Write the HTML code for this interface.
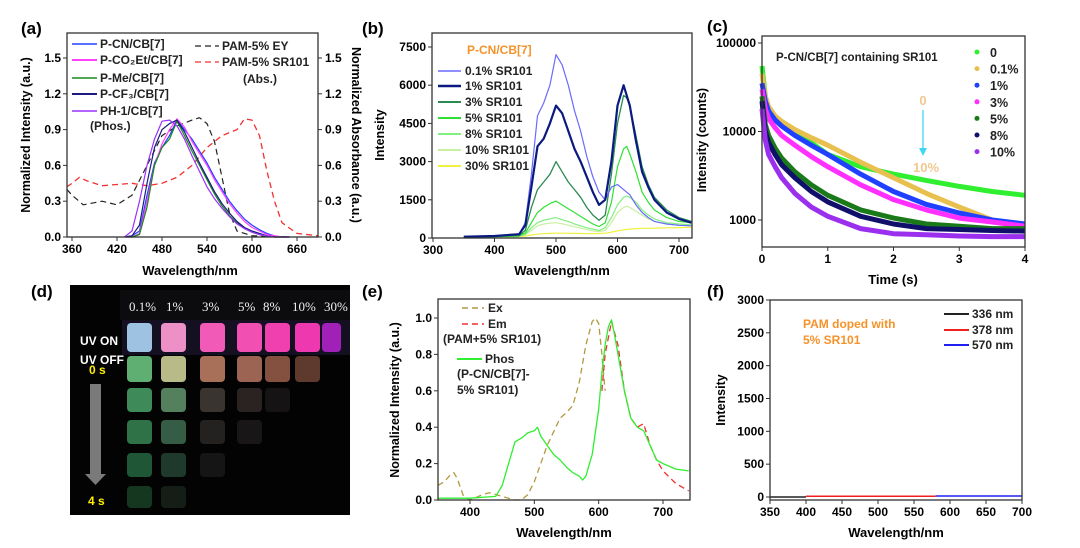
<!DOCTYPE html>
<html><head><meta charset="utf-8"><style>
html,body{margin:0;padding:0;background:#fff;}
svg{display:block;font-family:"Liberation Sans",Arial,sans-serif;}
</style></head><body>
<svg id="fig" width="1080" height="548" viewBox="0 0 1080 548" xmlns="http://www.w3.org/2000/svg">
<g>
<rect x="70" y="285" width="280" height="230" fill="#030303"/>
<rect x="120" y="290" width="230" height="30" fill="#0c0c0e"/>
<rect x="122" y="320" width="228" height="35" fill="#141022"/>
<g font-family="Liberation Serif,serif" font-size="13" fill="#eee">
<text x="129" y="311">0.1%</text><text x="166" y="311">1%</text><text x="202" y="311">3%</text><text x="238" y="311">5%</text><text x="263" y="311">8%</text><text x="292" y="311">10%</text><text x="324" y="311">30%</text></g>
<g>
<rect x="127" y="323" width="25" height="29" rx="4" fill="#9ec2e2"/><rect x="161" y="323" width="25" height="29" rx="4" fill="#ee90c8"/><rect x="200" y="323" width="25" height="29" rx="4" fill="#f25ab8"/><rect x="237" y="323" width="25" height="29" rx="4" fill="#f24fb2"/><rect x="265" y="323" width="25" height="29" rx="4" fill="#f040b0"/><rect x="295" y="323" width="25" height="29" rx="4" fill="#ee38b0"/><rect x="322" y="323" width="19" height="29" rx="4" fill="#a020b8"/></g>
<g>
<rect x="127" y="356" width="25" height="26" rx="4" fill="#5fae72"/><rect x="161" y="356" width="25" height="26" rx="4" fill="#b8bb88"/><rect x="200" y="356" width="25" height="26" rx="4" fill="#a87058"/><rect x="237" y="356" width="25" height="26" rx="4" fill="#9c6452"/><rect x="265" y="356" width="25" height="26" rx="4" fill="#84503f"/><rect x="295" y="356" width="25" height="26" rx="4" fill="#5e3a2e"/>
<rect x="127" y="388" width="25" height="24" rx="4" fill="#3e8a58"/><rect x="161" y="388" width="25" height="24" rx="4" fill="#55805e"/><rect x="200" y="388" width="25" height="24" rx="4" fill="#3a3430"/><rect x="237" y="388" width="25" height="24" rx="4" fill="#2a2322"/><rect x="265" y="388" width="25" height="24" rx="4" fill="#151313"/>
<rect x="127" y="420" width="25" height="24" rx="4" fill="#2f7248"/><rect x="161" y="420" width="25" height="24" rx="4" fill="#355c44"/><rect x="200" y="420" width="25" height="24" rx="4" fill="#232221"/><rect x="237" y="420" width="25" height="24" rx="4" fill="#181616"/>
<rect x="127" y="453" width="25" height="24" rx="4" fill="#1f5636"/><rect x="161" y="453" width="25" height="24" rx="4" fill="#1f3a2c"/><rect x="200" y="453" width="25" height="24" rx="4" fill="#141514"/>
<rect x="127" y="486" width="25" height="22" rx="4" fill="#15361f"/><rect x="161" y="486" width="25" height="22" rx="4" fill="#141d16"/></g>
<text x="80" y="345" font-size="12" font-weight="bold" fill="#fff">UV ON</text>
<text x="80" y="364" font-size="12" font-weight="bold" fill="#fff">UV OFF</text>
<text x="89" y="374" font-size="12" font-weight="bold" fill="#ffee00">0 s</text>
<path d="M90,384 H101 V474 H106 L95.5,485 L85,474 H90 Z" fill="#7a7a7a"/>
<text x="88" y="505" font-size="12" font-weight="bold" fill="#ffee00">4 s</text>
</g>
<g font-size="17" font-weight="bold" fill="#000">
<text x="21" y="34">(a)</text>
<text x="362" y="34">(b)</text>
<text x="707" y="32">(c)</text>
<text x="31" y="297">(d)</text>
<text x="362" y="297">(e)</text>
<text x="707" y="297">(f)</text>
</g>
</svg>
<script>
const aPhosX = [430,440,450,460,470,480,490,500,510,520,530,540,550,560,570,580,590,600,610,620,630,640,650];
const aPCN = [0,0.01,0.05,0.35,0.62,0.75,0.85,0.98,0.9,0.82,0.72,0.62,0.5,0.4,0.3,0.22,0.15,0.1,0.06,0.03,0.01,0,0];
const aPCO2Et = [0,0,0.03,0.3,0.6,0.78,0.9,0.99,0.92,0.8,0.7,0.6,0.48,0.38,0.28,0.2,0.13,0.08,0.05,0.02,0.01,0,0];
const aPMe = [0,0,0.02,0.25,0.6,0.75,0.82,0.97,0.85,0.72,0.6,0.48,0.36,0.26,0.18,0.12,0.07,0.04,0.02,0.01,0,0,0];
const aPCF3 = [0,0.01,0.1,0.45,0.75,0.9,0.95,0.98,0.88,0.75,0.62,0.5,0.38,0.28,0.2,0.13,0.08,0.05,0.03,0.01,0,0,0];
const aPH1 = [0,0.05,0.3,0.6,0.82,0.97,0.98,0.93,0.82,0.68,0.55,0.42,0.32,0.24,0.17,0.11,0.07,0.04,0.02,0.01,0,0,0];
const aEYX = [353,360,375,400,420,440,460,480,500,520,530,540,550,560,570,580,600,650];
const aEY = [0.4,0.35,0.27,0.3,0.27,0.35,0.6,0.85,0.93,0.98,1.0,0.95,0.8,0.5,0.2,0.05,0.01,0];
const aSRX = [353,360,370,380,400,420,440,460,480,500,520,540,560,580,590,600,610,620,630,640,660,688];
const aSR = [0.42,0.45,0.5,0.47,0.43,0.44,0.45,0.43,0.45,0.5,0.6,0.75,0.85,0.9,0.99,0.98,0.85,0.55,0.3,0.12,0.03,0.01];
const aXTicks = [360,420,480,540,600,660];
const aYTicks = ["0.0","0.3","0.6","0.9","1.2","1.5"];
const bX = [350,400,440,450,460,470,480,490,500,510,520,530,540,550,560,570,580,590,600,610,615,620,630,640,650,660,680,700,720];
const b01 = [50,80,150,600,2500,4800,5300,6000,7200,6800,6000,5000,4200,3200,2400,1800,1500,2000,2100,1900,1800,1700,1300,1000,800,650,550,500,480];
const b1 = [50,80,150,500,2000,3600,3900,4500,5200,4900,4200,3500,3000,2400,1800,1300,1500,3000,5200,6000,5600,5200,3800,2600,2000,1500,1000,750,600];
const b3 = [30,60,100,300,1200,1900,2200,2500,3000,2600,2200,1900,1600,1200,900,700,900,2500,4500,5600,5500,5200,4000,2800,2100,1600,1100,800,650];
const b5 = [30,50,80,200,600,1000,1200,1350,1450,1300,1150,1000,850,700,550,450,600,1400,2800,3500,3600,3300,2600,1800,1400,1100,800,650,600];
const b8 = [30,50,80,150,400,600,700,750,800,720,650,550,480,400,350,300,400,800,1300,1600,1650,1600,1400,1100,900,750,600,550,520];
const b10 = [30,40,60,120,300,480,550,580,600,560,500,440,390,330,280,250,300,600,1000,1200,1250,1200,1050,900,750,650,550,500,480];
const b30 = [20,30,50,80,120,150,170,180,190,190,185,180,175,170,170,175,190,230,280,320,340,350,370,380,380,390,400,410,420];
const bXTicks = [300,400,500,600,700];
const bYTicks = [0,1500,3000,4500,6000,7500];
const cT = [0,0.05,0.1,0.2,0.3,0.5,0.75,1,1.5,2,2.5,3,3.5,4];
const c0 = [55000,25000,18000,14000,12000,9500,7500,5500,4000,3300,2800,2400,2100,1900];
const c01 = [45000,25000,19000,15000,13000,10500,8500,7000,4500,3000,2000,1400,1000,800];
const c1 = [35000,22000,17000,13500,11500,9000,7000,5500,3300,2100,1500,1200,1000,900];
const c3 = [30000,18000,14000,11000,9000,7000,5200,4000,2500,1700,1300,1050,950,850];
const c5 = [25000,12000,9000,6500,5000,3500,2500,1900,1300,1050,900,850,800,800];
const c8 = [22000,10000,7500,5500,4200,3000,2100,1600,1100,900,800,780,760,750];
const c10 = [18000,8000,5500,4000,3000,2000,1400,1100,800,700,680,660,650,650];
const cXTicks = [0,1,2,3,4];
const cYTicks = [1000,10000,100000];
const eExX = [350,360,370,375,380,390,400,420,430,440,450,460,470,480,490,500,520,540,550,560,570,580,590,595,600,605,610];
const eEx = [0.08,0.1,0.14,0.15,0.12,0.02,0,0.03,0.04,0.03,0.02,0.01,0,0,0.03,0.1,0.3,0.45,0.48,0.52,0.65,0.85,0.98,1.0,0.97,0.8,0.6];
const eEmX = [605,610,620,630,640,650,660,670,680,690,700,720,740];
const eEm = [0.6,0.8,0.98,0.85,0.6,0.45,0.4,0.42,0.3,0.22,0.16,0.09,0.05];
const ePhX = [350,400,440,450,460,470,480,490,500,505,510,520,530,540,550,560,570,575,580,590,600,605,610,615,620,625,630,640,650,660,670,680,690,700,720,740];
const ePh = [0.01,0.01,0.02,0.08,0.2,0.32,0.34,0.37,0.38,0.4,0.35,0.3,0.25,0.22,0.18,0.15,0.13,0.11,0.13,0.25,0.5,0.7,0.85,0.95,0.99,0.9,0.8,0.6,0.45,0.4,0.38,0.3,0.22,0.2,0.17,0.16];
const eXTicks = [400,500,600,700];
const eYTicks = ["0.0","0.2","0.4","0.6","0.8","1.0"];
const f336X = [350,400];
const f336 = [0,0];
const f378X = [400,580];
const f378 = [10,10];
const f570X = [580,700];
const f570 = [15,15];
const fXTicks = [350,400,450,500,550,600,650,700];
const fYTicks = [0,500,1000,1500,2000,2500,3000];

const NS = "http://www.w3.org/2000/svg";
const svg = document.getElementById('fig');
function mk(tag, attrs, parent){ const e=document.createElementNS(NS,tag); for(const k in attrs) e.setAttribute(k,attrs[k]); (parent||svg).appendChild(e); return e; }
function txt(s, attrs, parent){ const e=mk('text',attrs,parent); e.textContent=s; return e; }
function lin(d0,d1,r0,r1){ return v=> r0+(v-d0)*(r1-r0)/(d1-d0); }
function pathD(xs, ys, sx, sy){ return xs.map((x,i)=>(i?'L':'M')+sx(x).toFixed(1)+','+sy(ys[i]).toFixed(1)).join(''); }
function series(g, name, xs, ys, sx, sy, color, w, dash){
  const p=mk('path',{d:pathD(xs,ys,sx,sy),fill:'none',stroke:color,'stroke-width':w,'stroke-linejoin':'round'},g);
  if(dash) p.setAttribute('stroke-dasharray',dash);
  
  
  return p;
}
function frame(g, x0,y0,x1,y1){
  const r=mk('rect',{x:x0,y:y0,width:x1-x0,height:y1-y0,fill:'none',stroke:'#333','stroke-width':1.3},g);
  
  
}
function xAxis(g, ticks, sx, yb, labels){
  const ax=mk('g',{'font-size':12,'font-weight':'bold','text-anchor':'middle'},g);
  
  
  ticks.forEach((t,i)=>{ const x=sx(t); mk('line',{x1:x,x2:x,y1:yb,y2:yb+4,stroke:'#333'},ax);
    const l=txt(labels?labels[i]:String(t),{x:x,y:yb+16},ax);
    
     });
}
function yAxis(g, vals, labels, sy, xl, right){
  const ax=mk('g',{'font-size':12,'font-weight':'bold','text-anchor':right?'start':'end'},g);
  
  
  vals.forEach((v,i)=>{ const y=sy(v); mk('line',{x1:xl,x2:right?xl+4:xl-4,y1:y,y2:y,stroke:'#333'},ax);
    const l=txt(labels[i],{x:right?xl+7:xl-6,y:y+4},ax);
    
     });
}
function rtitle(g,s,x,y,name,rot){
  const t=txt(s,{x:x,y:y,'font-size':12.5,'font-weight':'bold','text-anchor':'middle',transform:'rotate('+(rot||-90)+' '+x+' '+y+')'},g);
  
  
}
function htitle(g,s,x,y,name){
  const t=txt(s,{x:x,y:y,'font-size':13,'font-weight':'bold','text-anchor':'middle'},g);
  
  
}
function legLine(g,name,x,y,w,color,sw,dash,label,lx,fs,fill){
  const l=mk('line',{x1:x,x2:x+w,y1:y,y2:y,stroke:color,'stroke-width':sw},g);
  if(dash) l.setAttribute('stroke-dasharray',dash);
  
  
  const t=txt(label,{x:lx,y:y+4,'font-size':fs||12,'font-weight':'bold',fill:fill||'#222'},g);
  
  
}

{
const g=mk('g',{});  
const sx=lin(360,660,72,297), sy=lin(0,1.5,237,58);
const yv=aYTicks.map(Number);
series(g,'sr101-abs-line',aSRX,aSR,sx,sy,'#f03030',1.3,'6,4');
series(g,'ey-abs-line',aEYX,aEY,sx,sy,'#222',1.2,'6,4');
series(g,'p-cn-line',aPhosX,aPCN,sx,sy,'#2040ff',1.2);
series(g,'p-co2et-line',aPhosX,aPCO2Et,sx,sy,'#ff40ff',1.2);
series(g,'p-me-line',aPhosX,aPMe,sx,sy,'#1a8a1a',1.2);
series(g,'p-cf3-line',aPhosX,aPCF3,sx,sy,'#1a1a80',1.2);
series(g,'ph-1-line',aPhosX,aPH1,sx,sy,'#9a30ff',1.2);
frame(g,67,33,318,237);
xAxis(g,aXTicks,sx,237);
yAxis(g,yv,aYTicks,sy,67,false);
yAxis(g,yv,aYTicks,sy,318,true);
rtitle(g,'Normalized Intensity (a.u.)',30,135,'y-axis-title-left');
rtitle(g,'Normalized Absorbance (a.u.)',352,135,'y-axis-title-right',90);
htitle(g,'Wavelength/nm',190,275,'x-axis-title');
legLine(g,'legend-p-cn',72,44,25,'#2040ff',1.5,null,'P-CN/CB[7]',100);
legLine(g,'legend-p-co2et',72,60,25,'#ff40ff',2,null,'P-CO\u2082Et/CB[7]',100);
legLine(g,'legend-p-me',72,78,25,'#1a8a1a',1.5,null,'P-Me/CB[7]',100);
legLine(g,'legend-p-cf3',72,94,25,'#1a1a80',2,null,'P-CF\u2083/CB[7]',100);
legLine(g,'legend-ph-1',72,111,25,'#9a30ff',1.5,null,'PH-1/CB[7]',100);
const t1=txt('(Phos.)',{x:90,y:130,'font-size':12,'font-weight':'bold',fill:'#222'},g);  
legLine(g,'legend-pam-ey',195,46,24,'#222',1.3,'6,4','PAM-5% EY',222);
legLine(g,'legend-pam-sr101',195,62,24,'#f03030',1.3,'6,4','PAM-5% SR101',222);
const t2=txt('(Abs.)',{x:243,y:83,'font-size':12,'font-weight':'bold',fill:'#222'},g);  
}
{
const g=mk('g',{});  
const sx=lin(300,700,433,679), sy=lin(0,7500,238,47);
const cl=x=>Math.min(x,692);
const sxc=v=>cl(sx(v));
series(g,'sr101-30-line',bX,b30,sxc,sy,'#f0f040',1.2);
series(g,'sr101-10-line',bX,b10,sxc,sy,'#c8f0a0',1.2);
series(g,'sr101-8-line',bX,b8,sxc,sy,'#80f080',1.2);
series(g,'sr101-5-line',bX,b5,sxc,sy,'#30e030',1.2);
series(g,'sr101-3-line',bX,b3,sxc,sy,'#2a8a50',1.3);
series(g,'sr101-0.1-line',bX,b01,sxc,sy,'#6a6aff',1.2);
series(g,'sr101-1-line',bX,b1,sxc,sy,'#0a1a80',2.2);
frame(g,432,33,692,238);
xAxis(g,bXTicks,sx,238);
yAxis(g,bYTicks,bYTicks.map(String),sy,432,false);
rtitle(g,'Intensity',384,135,'y-axis-title');
htitle(g,'Wavelength/nm',562,275,'x-axis-title');
const t=txt('P-CN/CB[7]',{x:467,y:54,'font-size':12,'font-weight':'bold',fill:'#f5922a'},g);  
legLine(g,'legend-0.1',438,71,23,'#6a6aff',1.5,null,'0.1% SR101',465);
legLine(g,'legend-1',438,86,23,'#0a1a80',2.5,null,'1% SR101',465);
legLine(g,'legend-3',438,102,23,'#2a8a50',2,null,'3% SR101',465);
legLine(g,'legend-5',438,118,23,'#30e030',2,null,'5% SR101',465);
legLine(g,'legend-8',438,134,23,'#80f080',2,null,'8% SR101',465);
legLine(g,'legend-10',438,150,23,'#c8f0a0',2,null,'10% SR101',465);
legLine(g,'legend-30',438,166,23,'#f0f040',2,null,'30% SR101',465);
}
{
const g=mk('g',{});  
const sx=lin(0,4,762,1025);
const sy=v=>220-(Math.log10(v)-3)*88.5;
const cols=['#30ee30','#e8c050','#2040ff','#ff30ff','#1a7a1a','#10106a','#9a30ee'];
const sets=[c0,c01,c1,c3,c5,c8,c10];
const names=['decay-0','decay-0.1','decay-1','decay-3','decay-5','decay-8','decay-10'];
sets.forEach((s,i)=>{ const clipped=s.map(v=>Math.max(v,520)); series(g,names[i],cT,clipped,sx,sy,cols[i],5,null); });
frame(g,762,36,1025,247);
xAxis(g,cXTicks,sx,247);
yAxis(g,cYTicks,cYTicks.map(String),sy,762,false);
htitle(g,'Time (s)',893,284,'x-axis-title');
rtitle(g,'Intensity (counts)',706,140,'y-axis-title');
const t=txt('P-CN/CB[7] containing SR101',{x:776,y:61,'font-size':11.5,'font-weight':'bold',fill:'#222'},g);  
const labs=['0','0.1%','1%','3%','5%','8%','10%'];
labs.forEach((l,i)=>{ const y=52+i*16.6;
 const c=mk('circle',{cx:977,cy:y,r:2.5,fill:cols[i]},g);  
 const tt=txt(l,{x:990,y:y+5,'font-size':12.5,'font-weight':'bold',fill:'#222'},g);   });
const a0=txt('0',{x:923,y:105,'font-size':13,'font-weight':'bold',fill:'#f0c890','text-anchor':'middle'},g);  
const ar=mk('line',{x1:923,x2:923,y1:110,y2:150,stroke:'#40d8f0','stroke-width':1.3},g);  
const ah=mk('path',{d:'M919,148 L923,156 L927,148 Z',fill:'#40d8f0'},g);  
const a1=txt('10%',{x:926,y:172,'font-size':13,'font-weight':'bold',fill:'#f0c890','text-anchor':'middle'},g);  
}
{
const g=mk('g',{});  
const sx=lin(400,700,470,663), sy=lin(0,1,500,318);
series(g,'ex-line',eExX,eEx,sx,sy,'#b09a40',1.3,'6,4');
series(g,'em-line',eEmX,eEm,sx,sy,'#f03030',1.3,'6,4');
series(g,'phos-line',ePhX,ePh,sx,sy,'#30ee30',1.3);
frame(g,438,299,690,500);
xAxis(g,eXTicks,sx,500);
yAxis(g,eYTicks.map(Number),eYTicks,sy,438,false);
rtitle(g,'Normalized Intensity (a.u.)',399,400,'y-axis-title');
htitle(g,'Wavelength/nm',564,537,'x-axis-title');
legLine(g,'legend-ex',462,308,22,'#b09a40',1.5,'6,4','Ex',488);
legLine(g,'legend-em',462,324,22,'#f03030',1.5,'6,4','Em',488);
const n1=txt('(PAM+5% SR101)',{x:443,y:343,'font-size':12,'font-weight':'bold',fill:'#222'},g);  
legLine(g,'legend-phos',457,359,25,'#30ee30',2,null,'Phos',485);
const n2=txt('(P-CN/CB[7]-',{x:457,y:378,'font-size':12,'font-weight':'bold',fill:'#222'},g);  
const n3=txt('5% SR101)',{x:457,y:394,'font-size':12,'font-weight':'bold',fill:'#222'},g);  
}
{
const g=mk('g',{});  
const sx=lin(350,700,770,1022), sy=lin(0,3000,497,300);
series(g,'line-336nm',f336X,f336,sx,sy,'#222',1.5);
series(g,'line-378nm',f378X,f378,sx,sy,'#f02020',1.5);
series(g,'line-570nm',f570X,f570,sx,sy,'#2020f0',1.5);
frame(g,770,300,1022,500);
xAxis(g,fXTicks,sx,500);
yAxis(g,fYTicks,fYTicks.map(String),sy,770,false);
rtitle(g,'Intensity',725,400,'y-axis-title');
htitle(g,'Wavelength/nm',896,537,'x-axis-title');
const t1=txt('PAM doped with',{x:803,y:328,'font-size':12,'font-weight':'bold',fill:'#f5922a'},g);  
const t2=txt('5% SR101',{x:803,y:344,'font-size':12,'font-weight':'bold',fill:'#f5922a'},g);  
legLine(g,'legend-336',944,314,25,'#222',2,null,'336 nm',972);
legLine(g,'legend-378',944,330,25,'#f02020',2,null,'378 nm',972);
legLine(g,'legend-570',944,345,25,'#2020f0',2,null,'570 nm',972);
}
</script>
</body></html>
